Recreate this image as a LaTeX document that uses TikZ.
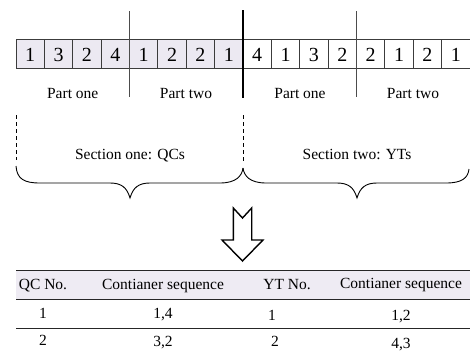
\documentclass[tikz,border=0pt]{standalone}
\usepackage{fontspec}
\setmainfont{Liberation Serif}
\definecolor{cellfill}{RGB}{236,233,242}
\definecolor{hdrfill}{RGB}{238,235,243}
\definecolor{linegray}{RGB}{60,60,60}
\begin{document}
\begin{tikzpicture}[x=1pt,y=-1pt,
  cell/.style={draw=linegray,line width=0.8pt,minimum width=28.375pt,minimum height=29pt,inner sep=0pt,font=\fontsize{20}{20}\selectfont},
  digit/.style={anchor=base,inner sep=0pt,font=\fontsize{20}{20}\selectfont},
  lbl/.style={font=\fontsize{15.5}{16}\selectfont,inner sep=0pt,anchor=base},
  tbl/.style={font=\fontsize{15.5}{16}\selectfont,inner sep=0pt,anchor=base},
  rule/.style={line width=0.8pt,black!85}]
\useasboundingbox (0,0) rectangle (470,356);
% cells
\foreach \v [count=\i] in {1,3,2,4,1,2,2,1,4,1,3,2,2,1,2,1}{
  \pgfmathsetmacro{\cx}{16+28.375*(\i-0.5)}
  \ifnum\i<9
    \node[cell,fill=cellfill] (c\i) at (\cx,53.7) {};
  \else
    \node[cell,fill=white] (c\i) at (\cx,53.7) {};
  \fi
  \node[digit] (d\i) at (\cx,61.7) {\v};
}
% vertical separators
\draw[line width=0.9pt,black!70] (129.5,11) -- (129.5,97);
\draw[line width=2pt,black] (243,10) -- (243,98);
\draw[line width=0.9pt,black!70] (356.7,11) -- (356.7,97);
% part labels
\node[lbl] (p1) at (72.7,98.5) {Part one};
\node[lbl] (p2) at (186,98.5) {Part two};
\node[lbl] (p3) at (300,98.5) {Part one};
\node[lbl] (p4) at (413,98.5) {Part two};
% dashed lines
\draw[dashed,dash pattern=on 4pt off 3pt,line width=0.8pt] (16,115) -- (16,160);
\draw[dashed,dash pattern=on 4pt off 3pt,line width=0.8pt] (243,115) -- (243,163);
% section labels
\node[lbl] (s1) at (130,159.3) {Section one: QCs};
\node[lbl] (s2) at (357,159.3) {Section two: YTs};
% braces
\draw[line width=0.9pt] (16,166) .. controls (17,179) and (24,183) .. (40,183) -- (110,183)
  .. controls (122,183) and (127,188) .. (130,198)
  .. controls (133,188) and (138,183) .. (150,183) -- (220,183)
  .. controls (236,183) and (242,176) .. (243,168);
\draw[line width=0.9pt] (243,168) .. controls (244,176) and (250,183) .. (266,183) -- (337,183)
  .. controls (349,183) and (354,188) .. (357,198)
  .. controls (360,188) and (365,183) .. (377,183) -- (446,183)
  .. controls (462,183) and (468,178) .. (469,169);
% hollow arrow
\draw[line width=1.4pt,line join=miter] (233.3,208) -- (242.5,218) -- (251.7,208) -- (251.7,240) -- (263,240) -- (242.5,261) -- (222,240) -- (233.3,240) -- cycle;
% table
\fill[hdrfill] (16,270) rectangle (470,299.5);
\draw[rule] (16,270) -- (470,270);
\draw[rule] (16,299.5) -- (470,299.5);
\draw[rule] (16,328.3) -- (470,328.3);
\node[tbl] (h1) at (43,289) {QC No.};
\node[tbl] (h2) at (163,289) {Contianer sequence};
\node[tbl] (h3) at (287,289) {YT No.};
\node[tbl] (h4) at (401,288) {Contianer sequence};
\node[tbl] (a1) at (43,318) {1};
\node[tbl] (a2) at (163,318.5) {1,4};
\node[tbl] (a3) at (272,320.5) {1};
\node[tbl] (a4) at (401,320.5) {1,2};
\node[tbl] (b1) at (43,345) {2};
\node[tbl] (b2) at (163,346) {3,2};
\node[tbl] (b3) at (275,346) {2};
\node[tbl] (b4) at (401,348.5) {4,3};
\end{tikzpicture}
\end{document}
